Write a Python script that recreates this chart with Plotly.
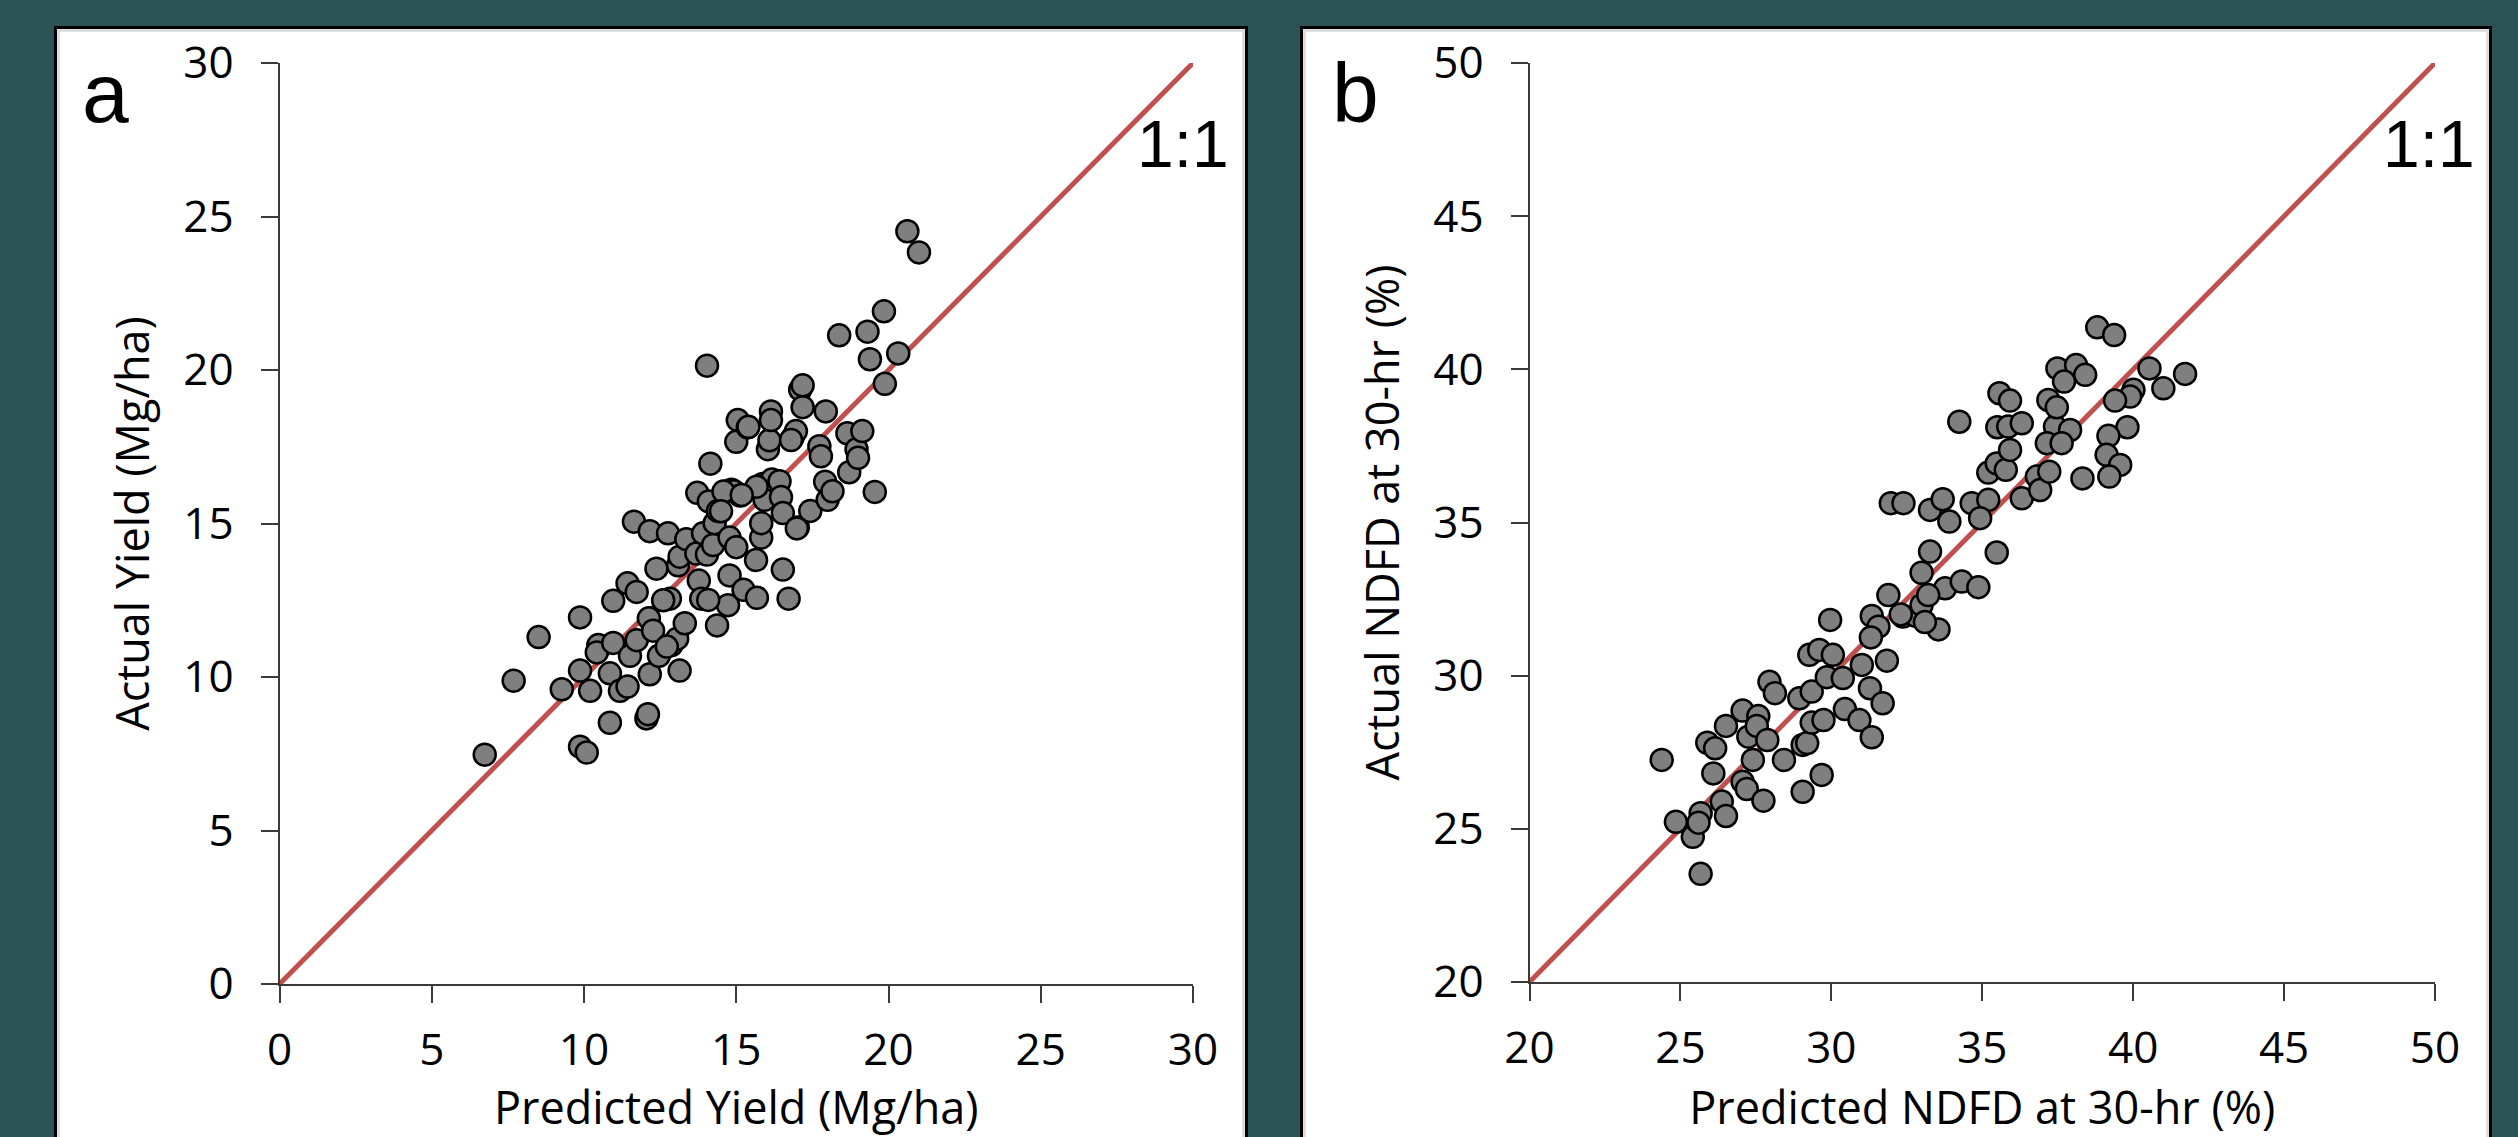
import plotly.graph_objects as go

# ---------------- data ----------------
# Panel a: yield (Mg/ha)
yield_pred = [6.74, 7.69, 8.51, 9.27, 9.87, 9.87, 9.87, 10.09, 10.2, 10.47, 10.42, 10.85, 10.85, 10.96,
              10.96, 11.18, 11.43, 11.43, 11.51, 11.64, 11.73, 11.73, 12.05, 12.1, 12.16, 12.13, 12.16,
              12.38, 12.27, 12.46, 12.76, 12.82, 12.87, 13.06, 13.14, 13.09, 13.14, 13.31, 13.36, 13.72,
              13.69, 13.77, 13.85, 13.91, 14.04, 14.1, 14.04, 14.15, 14.24, 14.29, 14.37, 14.4, 14.73,
              14.78, 14.78, 14.84, 14.92, 15.0, 15.05, 15.0, 15.13, 15.24, 15.38, 15.65, 15.68, 15.82,
              15.82, 15.87, 15.93, 16.04, 16.09, 16.14, 16.14, 16.17, 16.42, 16.47, 16.53, 16.53, 16.72,
              16.85, 16.96, 17.02, 17.1, 17.18, 17.43, 17.73, 17.78, 17.94, 17.92, 18.0, 18.16, 18.38,
              18.71, 18.65, 18.95, 19.0, 19.14, 19.31, 19.39, 19.55, 19.85, 19.88, 20.32, 20.62, 21.0,
              17.18, 16.8, 14.58, 15.67, 15.18, 14.5, 12.6, 12.72, 14.08, 16.99, 15.4]
yield_act = [7.47, 9.88, 11.3, 9.6, 11.94, 10.21, 7.73, 7.54, 9.55, 11.04, 10.8, 10.12, 8.51, 11.11,
             12.48, 9.55, 9.69, 13.05, 10.69, 15.06, 12.77, 11.2, 8.65, 8.79, 14.75, 11.91, 10.09,
             13.53, 11.51, 10.69, 14.68, 12.55, 11.04, 11.25, 10.21, 13.64, 13.92, 11.75, 14.49, 16.0,
             14.02, 13.14, 12.55, 14.68, 13.99, 15.72, 20.14, 16.95, 14.3, 15.01, 11.68, 15.41, 12.34,
             13.31, 14.54, 16.1, 16.05, 17.66, 18.37, 14.23, 15.91, 12.84, 18.13, 13.81, 12.58, 14.54,
             15.01, 16.29, 15.77, 17.42, 17.71, 18.65, 18.37, 16.43, 16.38, 15.86, 15.34, 13.5, 12.55,
             17.8, 18.01, 14.87, 19.36, 18.79, 15.41, 17.52, 17.19, 18.65, 16.36, 15.77, 16.05, 21.13,
             16.67, 17.94, 17.42, 17.14, 18.01, 21.25, 20.35, 16.03, 21.91, 19.55, 20.54, 24.52, 23.83,
             19.5, 17.72, 16.04, 16.2, 15.93, 15.4, 12.5, 10.99, 12.51, 14.84, 18.15]

# Panel b: NDFD at 30-hr (%)
ndfd_pred = [24.38, 24.85, 25.41, 25.67, 25.67, 25.6, 25.89, 26.15, 26.09, 26.37, 26.51, 26.51, 27.06,
             27.2, 27.75, 27.4, 27.06, 27.25, 27.58, 27.53, 27.88, 27.95, 28.13, 28.43, 28.94, 29.35,
             29.05, 29.2, 29.35, 29.74, 29.68, 29.05, 29.27, 29.6, 30.05, 29.85, 30.38, 30.45, 30.93,
             31.34, 31.28, 31.7, 31.01, 29.96, 31.34, 31.56, 31.31, 31.84, 31.89, 32.37, 32.8, 32.99,
             33.55, 33.1, 32.99, 33.77, 34.32, 34.87, 33.27, 35.48, 31.97, 32.39, 33.27, 33.69, 33.91,
             34.65, 35.2, 34.93, 35.2, 35.48, 35.78, 36.31, 36.81, 36.92, 37.22, 38.32, 35.92, 34.24,
             35.5, 35.86, 36.31, 37.41, 37.91, 37.14, 37.63, 35.57, 35.92, 37.19, 37.47, 37.49, 38.11,
             38.41, 37.71, 38.81, 39.37, 40.54, 41.72, 41.0, 40.01, 39.9, 39.4, 39.81, 39.18, 39.12,
             39.57, 39.21, 32.3, 33.21]
ndfd_act = [27.25, 25.23, 24.74, 23.53, 25.51, 25.2, 27.81, 27.63, 26.81, 25.89, 25.42, 28.36, 26.54,
            26.3, 25.92, 27.25, 28.86, 28.01, 28.68, 28.36, 27.9, 29.8, 29.43, 27.25, 29.26, 29.48,
            27.74, 27.8, 28.47, 28.55, 26.76, 26.21, 30.68, 30.84, 30.68, 29.95, 29.92, 28.91, 28.55,
            27.99, 29.59, 29.1, 30.35, 31.82, 31.95, 31.6, 31.25, 30.49, 32.63, 31.93, 31.95, 32.31,
            31.51, 31.75, 33.36, 32.85, 33.07, 32.89, 34.05, 34.02, 35.63, 35.63, 35.41, 35.76, 35.03,
            35.63, 35.74, 35.14, 36.63, 36.93, 36.72, 35.79, 36.5, 36.06, 36.66, 36.44, 37.37, 38.29,
            38.11, 38.13, 38.24, 38.13, 38.02, 37.59, 37.59, 39.22, 38.98, 39.0, 38.76, 40.03, 40.14,
            39.82, 39.6, 41.37, 41.12, 40.03, 39.85, 39.38, 39.33, 39.11, 38.98, 38.11, 37.83, 37.21,
            36.88, 36.5, 32.0, 32.63]

line_a = [0, 30]
line_b = [20, 50]
ticks_a = [0, 5, 10, 15, 20, 25, 30]
ticks_b = [20, 25, 30, 35, 40, 45, 50]

panel_labels = ["a", "b"]
x_titles = ["Predicted Yield (Mg/ha)", "Predicted NDFD at 30-hr (%)"]
y_titles = ["Actual Yield (Mg/ha)", "Actual NDFD at 30-hr (%)"]
ratio_label = "1:1"

# ---------------- figure ----------------
W, H = 2518, 1137
BG = "#2c5457"
RED = "#c0504d"
AX = "#3a3a3a"
FONT = "Open Sans"

def px_x(p):
    return p / W

def px_y(p):
    return (H - p) / H

fig = go.Figure()

marker = dict(size=22, color="#7f7f7f", line=dict(color="#000000", width=2.5))

fig.add_trace(go.Scatter(x=line_a, y=line_a, mode="lines", line=dict(color=RED, width=5),
                         xaxis="x", yaxis="y", showlegend=False, hoverinfo="skip"))
fig.add_trace(go.Scatter(x=yield_pred, y=yield_act, mode="markers", marker=marker,
                         xaxis="x", yaxis="y", showlegend=False))
fig.add_trace(go.Scatter(x=line_b, y=line_b, mode="lines", line=dict(color=RED, width=5),
                         xaxis="x2", yaxis="y2", showlegend=False, hoverinfo="skip"))
fig.add_trace(go.Scatter(x=ndfd_pred, y=ndfd_act, mode="markers", marker=marker,
                         xaxis="x2", yaxis="y2", showlegend=False))

tickfont = dict(family=FONT, size=44, color="#000000")
titlefont = dict(family=FONT, size=45, color="#000000")

def xaxis(domain, rng, ticks, title, anchor):
    return dict(domain=domain, range=rng, tickvals=ticks, ticks="outside", ticklen=17, tickwidth=2,
                tickcolor=AX, showline=True, linecolor=AX, linewidth=2, showgrid=False, zeroline=False,
                tickfont=tickfont, anchor=anchor, ticklabelstandoff=9, automargin=False,
                title=dict(text=title, font=titlefont, standoff=13))

def yaxis(domain, rng, ticks, title, anchor):
    return dict(domain=domain, range=rng, tickvals=ticks, ticks="outside", ticklen=17, tickwidth=2,
                tickcolor=AX, showline=True, linecolor=AX, linewidth=2, showgrid=False, zeroline=False,
                tickfont=tickfont, anchor=anchor, ticklabelstandoff=18, automargin=False,
                title=dict(text=title, font=titlefont, standoff=20))

ya_dom = [px_y(984), px_y(63)]
yb_dom = [px_y(982), px_y(63)]

fig.update_layout(
    template="none",
    width=W, height=H,
    margin=dict(l=0, r=0, t=0, b=0, pad=0),
    paper_bgcolor=BG, plot_bgcolor="rgba(0,0,0,0)",
    xaxis=xaxis([px_x(279.5), px_x(1193)], [0, 30], ticks_a, x_titles[0], "y"),
    yaxis=yaxis(ya_dom, [0, 30], ticks_a, y_titles[0], "x"),
    xaxis2=xaxis([px_x(1529.5), px_x(2435)], [20, 50], ticks_b, x_titles[1], "y2"),
    yaxis2=yaxis(yb_dom, [20, 50], ticks_b, y_titles[1], "x2"),
)

# white panels with borders
for x0, x1 in [(55.5, 1246.5), (1301.5, 2490.5)]:
    fig.add_shape(type="rect", xref="paper", yref="paper", x0=px_x(x0), x1=px_x(x1),
                  y0=px_y(1160), y1=px_y(27.5), fillcolor="white",
                  line=dict(color="#000000", width=3), layer="below")
    fig.add_shape(type="rect", xref="paper", yref="paper", x0=px_x(x0 + 3), x1=px_x(x1 - 3),
                  y0=px_y(1160), y1=px_y(30.5), fillcolor="rgba(0,0,0,0)",
                  line=dict(color="#d9d9d9", width=2.5), layer="below")

# panel letters
for lab, xc in zip(panel_labels, [105, 1355]):
    fig.add_annotation(text=lab, xref="paper", yref="paper", x=px_x(xc), y=px_y(142),
                       xanchor="center", yanchor="bottom", showarrow=False,
                       font=dict(family="Liberation Sans", size=84, color="#000000"))

# 1:1 labels
for xr in [1231, 2477]:
    fig.add_annotation(text=ratio_label, xref="paper", yref="paper", x=px_x(xr), y=px_y(183),
                       xanchor="right", yanchor="bottom", showarrow=False,
                       font=dict(family="Liberation Sans", size=66, color="#000000"))

fig.write_html(
    "out.html",
    config={"displayModeBar": False},
    post_script="document.body.style.margin='0';document.body.style.padding='0';"
                "document.body.style.background='%s';" % BG,
)
